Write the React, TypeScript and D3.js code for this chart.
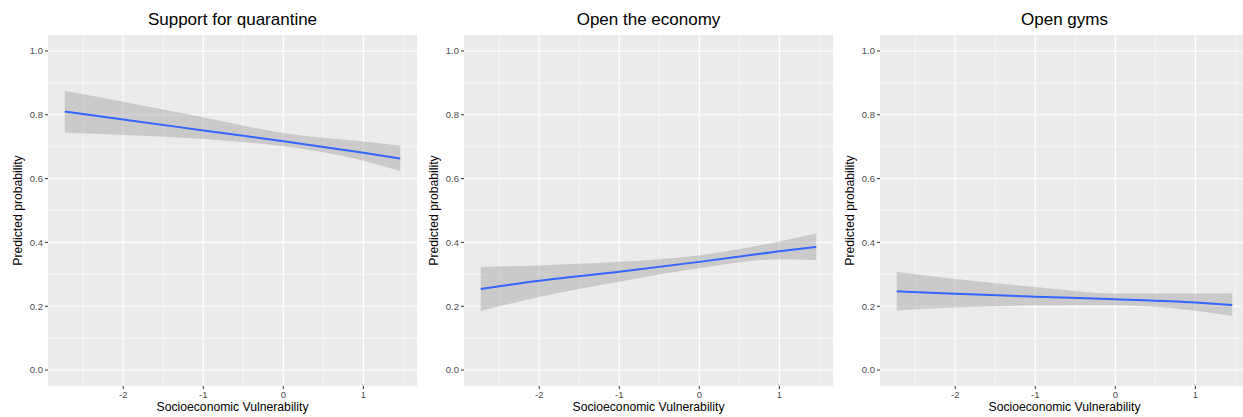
import React from "react";
import * as d3 from "d3";

const titles = ["Support for quarantine", "Open the economy", "Open gyms"];
const xVals = [-2.73, -2, -1, 0, 1, 1.46];
const fitQuarantine = [0.81, 0.785, 0.751, 0.717, 0.681, 0.663];
const upperQuarantine = [0.875, 0.841, 0.792, 0.743, 0.716, 0.703];
const lowerQuarantine = [0.744, 0.737, 0.724, 0.701, 0.656, 0.624];
const fitEconomy = [0.254, 0.28, 0.308, 0.339, 0.372, 0.386];
const upperEconomy = [0.323, 0.328, 0.339, 0.36, 0.403, 0.428];
const lowerEconomy = [0.185, 0.229, 0.277, 0.319, 0.347, 0.344];
const fitGyms = [0.247, 0.239, 0.23, 0.222, 0.212, 0.204];
const upperGyms = [0.307, 0.285, 0.26, 0.24, 0.24, 0.241];
const lowerGyms = [0.187, 0.196, 0.202, 0.203, 0.186, 0.169];
const xTicks = [-2, -1, 0, 1];
const xMinor = [-2.5, -1.5, -0.5, 0.5, 1.5];
const yTicks = [0, 0.2, 0.4, 0.6, 0.8, 1.0];
const yMinor = [0.1, 0.3, 0.5, 0.7, 0.9];

const series = [
  { fit: fitQuarantine, upper: upperQuarantine, lower: lowerQuarantine },
  { fit: fitEconomy, upper: upperEconomy, lower: lowerEconomy },
  { fit: fitGyms, upper: upperGyms, lower: lowerGyms },
];

const W = 1243;
const H = 417;
const panelLefts = [48, 464, 880];
const panelW = 369;
const top = 35;
const bottom = 386;
const font = "'Liberation Sans', Arial, Helvetica, sans-serif";

function Panel({ idx }: { idx: number }) {
  const left = panelLefts[idx];
  const x = d3.scaleLinear().domain([-2.9395, 1.6695]).range([left, left + panelW]);
  const y = d3.scaleLinear().domain([-0.05, 1.05]).range([bottom, top]);
  const s = series[idx];
  const pts = xVals.map((xv, i) => ({ x: xv, f: s.fit[i], u: s.upper[i], l: s.lower[i] }));
  const area = d3
    .area<any>()
    .x((d) => x(d.x))
    .y0((d) => y(d.l))
    .y1((d) => y(d.u))
    .curve(d3.curveMonotoneX);
  const line = d3
    .line<any>()
    .x((d) => x(d.x))
    .y((d) => y(d.f))
    .curve(d3.curveMonotoneX);
  const cx = left + panelW / 2;
  return (
    <g>
      <rect x={left} y={top} width={panelW} height={bottom - top} fill="#EBEBEB" />
      {yMinor.map((v) => (
        <line key={"ym" + v} x1={left} x2={left + panelW} y1={y(v)} y2={y(v)} stroke="#fff" strokeWidth={0.55} />
      ))}
      {xMinor.map((v) => (
        <line key={"xm" + v} x1={x(v)} x2={x(v)} y1={top} y2={bottom} stroke="#fff" strokeWidth={0.55} />
      ))}
      {yTicks.map((v) => (
        <line key={"yM" + v} x1={left} x2={left + panelW} y1={y(v)} y2={y(v)} stroke="#fff" strokeWidth={1.1} />
      ))}
      {xTicks.map((v) => (
        <line key={"xM" + v} x1={x(v)} x2={x(v)} y1={top} y2={bottom} stroke="#fff" strokeWidth={1.1} />
      ))}
      <path d={area(pts) || ""} fill="#999999" fillOpacity={0.4} />
      <path d={line(pts) || ""} fill="none" stroke="#3366FF" strokeWidth={2} />
      {yTicks.map((v) => (
        <g key={"yt" + v}>
          <line x1={left - 3} x2={left} y1={y(v)} y2={y(v)} stroke="#333" strokeWidth={1} />
          <text x={left - 5} y={y(v)} dy="0.35em" textAnchor="end" fontSize={9.5} fill="#4D4D4D" fontFamily={font}>
            {v.toFixed(1)}
          </text>
        </g>
      ))}
      {xTicks.map((v) => (
        <g key={"xt" + v}>
          <line x1={x(v)} x2={x(v)} y1={bottom} y2={bottom + 3} stroke="#333" strokeWidth={1} />
          <text x={x(v)} y={bottom + 12} textAnchor="middle" fontSize={9.5} fill="#4D4D4D" fontFamily={font}>
            {String(v)}
          </text>
        </g>
      ))}
      <text x={cx} y={25} textAnchor="middle" fontSize={17} fill="#000" fontFamily={font}>
        {titles[idx]}
      </text>
      <text x={cx} y={411} textAnchor="middle" fontSize={12.2} fill="#000" fontFamily={font}>
        Socioeconomic Vulnerability
      </text>
      <text
        transform={`translate(${left - 26},${(top + bottom) / 2}) rotate(-90)`}
        textAnchor="middle"
        fontSize={12.2}
        fill="#000"
        fontFamily={font}
      >
        Predicted probability
      </text>
    </g>
  );
}

export default function App() {
  return (
    <svg
      width={W}
      height={H}
      viewBox={`0 0 ${W} ${H}`}
      style={{ position: "absolute", left: 0, top: 0, background: "#fff" }}
    >
      <rect x={0} y={0} width={W} height={H} fill="#fff" />
      {[0, 1, 2].map((i) => (
        <Panel key={i} idx={i} />
      ))}
    </svg>
  );
}
